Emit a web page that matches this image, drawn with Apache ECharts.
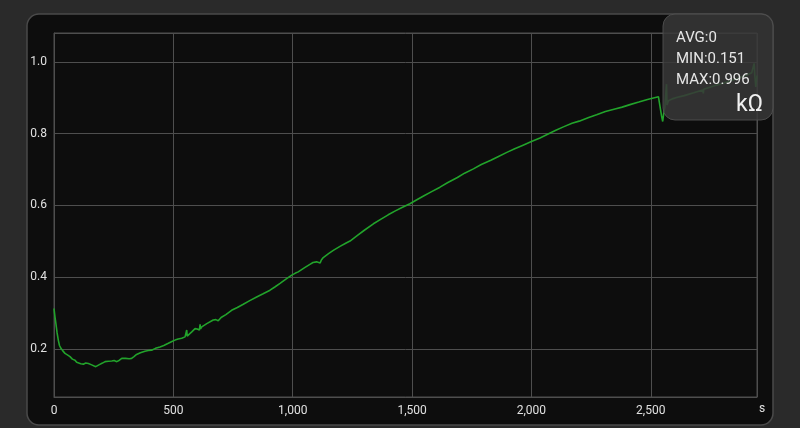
<!DOCTYPE html>
<html>
<head>
<meta charset="utf-8">
<script src="https://cdn.jsdelivr.net/npm/echarts@6/dist/echarts.min.js"></script>
<style>
html,body{margin:0;padding:0;background:#2a2a2a;}
#c{width:800px;height:428px;}
</style>
</head>
<body>
<div id="c"></div>
<script>
// Time (s)
const times = [0,4,8,13,18,23,29,37,46,56,67,77,88,95,102,112,123,133,144,152,158,166,175,182,188,193,203,214,228,242,252,263,274,284,300,315,325,335,346,362,381,395,409,425,444,460,479,494,507,520,535,549,553,556,558,563,577,591,600,609,612,614,619,640,667,678,688,700,720,744,768,793,820,849,876,905,925,947,970,996,1010,1023,1050,1072,1085,1093,1100,1108,1115,1120,1128,1150,1170,1198,1220,1240,1270,1300,1338,1370,1400,1430,1460,1491,1520,1550,1580,1617,1650,1690,1720,1757,1790,1830,1860,1897,1930,1965,2000,2036,2070,2100,2134,2170,2200,2240,2273,2310,2350,2380,2413,2450,2490,2532,2538,2545,2550,2554,2559,2563,2566,2568,2574,2590,2608,2640,2680,2718,2720,2722,2760,2800,2832,2870,2900,2923,2930,2933,2936,2940,2945];
// Resistance (kΩ)
const values = [0.313,0.29,0.271,0.245,0.225,0.21,0.202,0.195,0.188,0.184,0.179,0.172,0.169,0.163,0.160,0.159,0.158,0.161,0.160,0.157,0.156,0.155,0.151,0.153,0.156,0.158,0.161,0.165,0.166,0.167,0.168,0.165,0.169,0.174,0.174,0.173,0.174,0.179,0.185,0.190,0.194,0.196,0.197,0.202,0.206,0.210,0.216,0.221,0.225,0.228,0.230,0.234,0.232,0.253,0.236,0.239,0.248,0.257,0.256,0.253,0.269,0.256,0.262,0.271,0.281,0.282,0.279,0.288,0.296,0.308,0.316,0.325,0.335,0.345,0.354,0.364,0.373,0.383,0.394,0.406,0.411,0.415,0.427,0.436,0.441,0.444,0.443,0.439,0.440,0.448,0.455,0.466,0.475,0.486,0.494,0.501,0.516,0.531,0.549,0.562,0.574,0.585,0.595,0.605,0.616,0.627,0.638,0.651,0.664,0.678,0.690,0.702,0.714,0.726,0.736,0.748,0.758,0.768,0.778,0.788,0.799,0.809,0.819,0.829,0.835,0.845,0.853,0.862,0.869,0.874,0.881,0.888,0.896,0.903,0.900,0.850,0.834,0.855,0.875,0.870,0.938,0.880,0.892,0.897,0.901,0.906,0.914,0.922,0.912,0.924,0.932,0.940,0.947,0.955,0.963,0.970,0.972,0.996,0.960,0.930,0.962];
const xTicks = [0,500,1000,1500,2000,2500];
const yTicks = [0.2,0.4,0.6,0.8,1.0];
const statLabels = ['AVG:0','MIN:0.151','MAX:0.996'];
const unitLabel = 'kΩ';
const xName = 's';

const seriesData = times.map((t,i)=>[t, values[i]]);
const vMin = Math.min(...values), vMax = Math.max(...values);
const pad = (vMax - vMin) * 0.1;

const chart = echarts.init(document.getElementById('c'));
const font = 'Roboto, "Noto Sans", sans-serif';
const gridColor = '#4e4e4e';
const near = (a,b)=>Math.abs(a-b)<1e-6;

chart.setOption({
  backgroundColor: '#2a2a2a',
  animation: false,
  grid: {left:54, top:33, right:43, bottom:31, show:true, borderColor:gridColor, borderWidth:1, backgroundColor:'transparent'},
  xAxis: {
    type:'value', min:0, max:Math.max(...times),
    name:xName, nameLocation:'end', nameGap:2,
    nameTextStyle:{color:'#e0e0e0', fontSize:12, fontFamily:font, verticalAlign:'top', padding:[6,0,0,0]},
    axisLine:{show:true, lineStyle:{color:gridColor}},
    axisTick:{show:false},
    splitLine:{show:true, lineStyle:{color:gridColor, width:1}},
    axisLabel:{color:'#e0e0e0', fontSize:12, fontFamily:font, margin:8, showMaxLabel:false,
      formatter:v=> xTicks.some(t=>near(t,v)) ? v.toLocaleString('en-US') : ''}
  },
  yAxis: {
    type:'value', min:vMin-pad, max:vMax+pad,
    axisLine:{show:true, lineStyle:{color:gridColor}},
    axisTick:{show:false},
    splitLine:{show:true, lineStyle:{color:gridColor, width:1}},
    axisLabel:{color:'#e0e0e0', fontSize:12, fontFamily:font, margin:7, showMinLabel:false, showMaxLabel:false,
      formatter:v=> yTicks.some(t=>near(t,v)) ? v.toFixed(1) : ''}
  },
  series: [{
    type:'line', data:seriesData, showSymbol:false, symbol:'none',
    lineStyle:{color:'#22a32b', width:1.6}, z:3
  }],
  graphic: [
    {type:'rect', z:-10, silent:true, shape:{x:27,y:14,width:746,height:411,r:12},
     style:{fill:'#0d0d0d', stroke:'#4a4a4a', lineWidth:1.5}},
    {type:'rect', z:100, silent:true, shape:{x:663,y:14,width:110,height:106,r:12},
     style:{fill:'rgba(56,56,56,0.86)', stroke:'rgba(80,80,80,0.9)', lineWidth:1}},
    {type:'text', z:101, left:676, top:31, style:{text:statLabels[0], fill:'#e6e6e6', font:'15px '+font}},
    {type:'text', z:101, left:676, top:52, style:{text:statLabels[1], fill:'#e6e6e6', font:'15px '+font}},
    {type:'text', z:101, left:676, top:73, style:{text:statLabels[2], fill:'#e6e6e6', font:'15px '+font}},
    {type:'text', z:101, left:736, top:94, style:{text:unitLabel, fill:'#f0f0f0', font:'23px '+font}}
  ]
});
</script>
</body>
</html>
